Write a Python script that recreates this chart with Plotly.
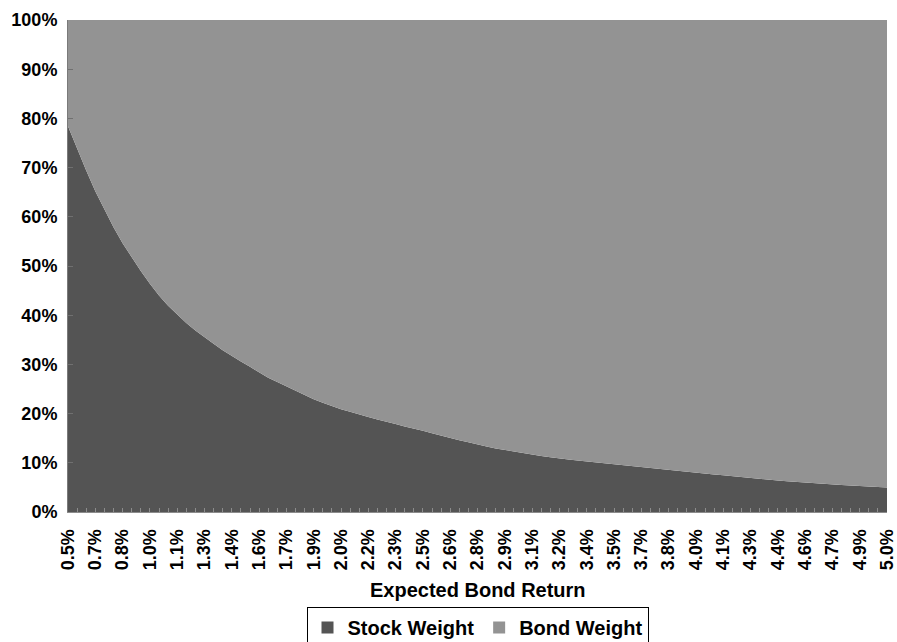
import plotly.graph_objects as go

# Expected bond return categories (%), one every 0.05%
bond_returns = [
    0.50, 0.55, 0.60, 0.65, 0.70, 0.75, 0.80, 0.85, 0.90, 0.95,
    1.00, 1.05, 1.10, 1.15, 1.20, 1.25, 1.30, 1.35, 1.40, 1.45,
    1.50, 1.55, 1.60, 1.65, 1.70, 1.75, 1.80, 1.85, 1.90, 1.95,
    2.00, 2.05, 2.10, 2.15, 2.20, 2.25, 2.30, 2.35, 2.40, 2.45,
    2.50, 2.55, 2.60, 2.65, 2.70, 2.75, 2.80, 2.85, 2.90, 2.95,
    3.00, 3.05, 3.10, 3.15, 3.20, 3.25, 3.30, 3.35, 3.40, 3.45,
    3.50, 3.55, 3.60, 3.65, 3.70, 3.75, 3.80, 3.85, 3.90, 3.95,
    4.00, 4.05, 4.10, 4.15, 4.20, 4.25, 4.30, 4.35, 4.40, 4.45,
    4.50, 4.55, 4.60, 4.65, 4.70, 4.75, 4.80, 4.85, 4.90, 4.95,
    5.00,
]

# Stock weight (%)
stock_weight = [
    78.4, 73.8, 69.4, 65.2, 61.4, 57.9, 54.6, 51.7, 49.0, 46.4,
    44.0, 41.9, 40.1, 38.4, 36.9, 35.5, 34.2, 32.9, 31.7, 30.6,
    29.5, 28.4, 27.3, 26.4, 25.5, 24.6, 23.7, 22.9, 22.2, 21.5,
    20.9, 20.4, 19.8, 19.3, 18.8, 18.4, 17.9, 17.4, 17.0, 16.5,
    16.0, 15.5, 15.1, 14.6, 14.2, 13.7, 13.3, 12.9, 12.6, 12.2,
    11.95, 11.7, 11.4, 11.15, 10.85, 10.65, 10.45, 10.25, 10.05, 9.85,
    9.7, 9.5, 9.35, 9.15, 8.95, 8.75, 8.55, 8.35, 8.2, 8.0,
    7.8, 7.6, 7.45, 7.25, 7.05, 6.9, 6.7, 6.55, 6.4, 6.25,
    6.1, 6.0, 5.85, 5.7, 5.6, 5.5, 5.4, 5.3, 5.2, 5.1,
    5.0,
]

# Bond weight is the remainder
bond_weight = [100 - s for s in stock_weight]

tick_labels = [
    "0.5%", "0.7%", "0.8%", "1.0%", "1.1%", "1.3%", "1.4%", "1.6%", "1.7%", "1.9%",
    "2.0%", "2.2%", "2.3%", "2.5%", "2.6%", "2.8%", "2.9%", "3.1%", "3.2%", "3.4%",
    "3.5%", "3.7%", "3.8%", "4.0%", "4.1%", "4.3%", "4.4%", "4.6%", "4.7%", "4.9%",
    "5.0%",
]
tick_positions = bond_returns[::3]

STOCK_COLOR = "#545454"
BOND_COLOR = "#939393"
FONT = "Liberation Sans, Arial, sans-serif"

fig = go.Figure()
fig.add_trace(go.Scatter(
    x=bond_returns, y=stock_weight, name="Stock Weight",
    stackgroup="one", mode="lines", line=dict(width=0, color=STOCK_COLOR),
    fillcolor=STOCK_COLOR, showlegend=False, hoverinfo="skip",
))
fig.add_trace(go.Scatter(
    x=bond_returns, y=bond_weight, name="Bond Weight",
    stackgroup="one", mode="lines", line=dict(width=0, color=BOND_COLOR),
    fillcolor=BOND_COLOR, showlegend=False, hoverinfo="skip",
))
# legend entries (square swatches)
fig.add_trace(go.Scatter(
    x=[None], y=[None], mode="markers", name="Stock Weight",
    marker=dict(symbol="square", size=13, color=STOCK_COLOR),
))
fig.add_trace(go.Scatter(
    x=[None], y=[None], mode="markers", name="Bond Weight",
    marker=dict(symbol="square", size=13, color=BOND_COLOR),
))

fig.update_layout(
    width=897, height=642,
    margin=dict(l=68, r=10, t=20, b=130, autoexpand=False),
    paper_bgcolor="white", plot_bgcolor="white",
    font=dict(family=FONT, color="black", weight="bold"),
    showlegend=True,
    legend=dict(
        orientation="h", x=0.5, xanchor="center",
        y=-0.193, yanchor="top", traceorder="normal",
        bordercolor="black", borderwidth=1, bgcolor="white",
        font=dict(size=20, family=FONT, weight="bold", color="black"),
        itemsizing="constant", tracegroupgap=0,
    ),
    annotations=[dict(
        text="Expected Bond Return", xref="paper", yref="paper",
        x=0.5, y=-0.158, xanchor="center", yanchor="middle",
        showarrow=False,
        font=dict(size=20, family=FONT, weight="bold", color="black"),
    )],
)

fig.update_xaxes(
    type="linear", range=[bond_returns[0], bond_returns[-1]],
    tickmode="array", tickvals=tick_positions, ticktext=tick_labels,
    tickangle=-90, tickfont=dict(size=18, family=FONT, weight="bold"),
    ticks="inside", ticklen=4, tickcolor="#8c8c8c",
    minor=dict(ticks="inside", ticklen=4, tickcolor="#8c8c8c", dtick=0.05,
               tick0=bond_returns[0], showgrid=False),
    showline=True, linecolor="#8c8c8c", linewidth=1,
    showgrid=False, zeroline=False, ticklabelstandoff=9,
)
fig.update_yaxes(
    range=[0, 100], dtick=10, tick0=0, ticksuffix="%",
    tickfont=dict(size=18, family=FONT, weight="bold"),
    ticks="inside", ticklen=5, tickcolor="#707070",
    showline=True, linecolor="#7a7a7a", linewidth=1,
    showgrid=False, zeroline=False, ticklabelstandoff=6,
)

fig.write_html("out.html")
